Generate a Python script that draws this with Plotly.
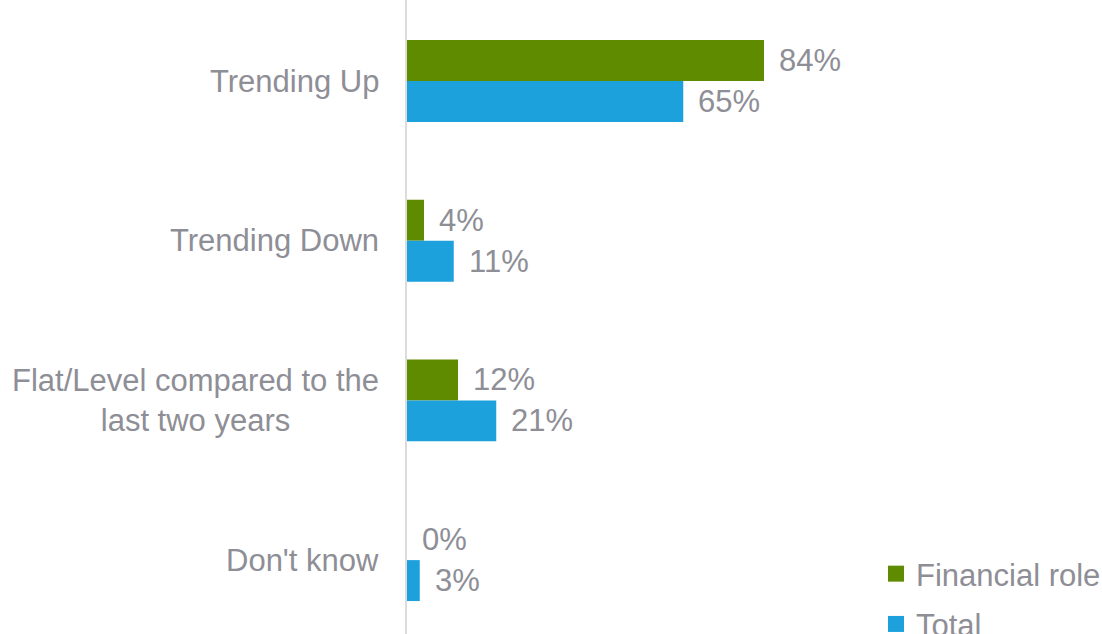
import plotly.graph_objects as go

# Survey responses by group
categories = ["Trending Up", "Trending Down",
              "Flat/Level compared to the<br>last two years", "Don't know"]
financial_role = [84, 4, 12, 0]
total = [65, 11, 21, 3]

GREEN = "#5f8b00"
BLUE = "#1da1dc"
TEXT = "#8e8e96"
FONT = "Liberation Sans, Arial, sans-serif"
FS = 31

W, H = 1102, 634
LEFT = 407
PX_PER_PCT = 4.25
PX_PER_CAT = 159.7
TOP_CENTER = 81

cat_idx = list(range(len(categories)))

fig = go.Figure()
fig.add_trace(go.Bar(y=cat_idx, x=financial_role, orientation="h",
                     marker=dict(color=GREEN, line=dict(width=0)),
                     name="Financial role", showlegend=False))
fig.add_trace(go.Bar(y=cat_idx, x=total, orientation="h",
                     marker=dict(color=BLUE, line=dict(width=0)),
                     name="Total", showlegend=False))

# legend entries drawn with square markers
for name, col, grp in [("Financial role", GREEN, "a"), ("Total", BLUE, "b")]:
    fig.add_trace(go.Scatter(x=[None], y=[None], mode="markers",
                             marker=dict(symbol="square", size=16, color=col),
                             name=name, legendgroup=grp, showlegend=True))

# value labels at the end of each bar
bar_half = PX_PER_CAT * (1 - 0.487) / 4
for i in cat_idx:
    for vals, dy in [(financial_role, bar_half), (total, -bar_half)]:
        fig.add_annotation(x=vals[i], y=i, xref="x", yref="y",
                           text=f"{vals[i]}%", showarrow=False,
                           xanchor="left", yanchor="middle",
                           xshift=13, yshift=dy,
                           font=dict(family=FONT, size=FS, color=TEXT))

# category labels, centered multi-line text
for i, c in enumerate(categories):
    fig.add_annotation(x=0, y=i, xref="paper", yref="y", text=c,
                       showarrow=False, xanchor="right", yanchor="middle",
                       align="center", xshift=-26,
                       font=dict(family=FONT, size=FS, color=TEXT))

y_top = -TOP_CENTER / PX_PER_CAT
y_bot = y_top + H / PX_PER_CAT

fig.update_layout(
    width=W, height=H,
    margin=dict(l=LEFT, r=0, t=0, b=0, autoexpand=False),
    paper_bgcolor="white", plot_bgcolor="white",
    barmode="group", bargap=0.487, bargroupgap=0,
    font=dict(family=FONT, size=FS, color=TEXT),
    xaxis=dict(range=[0, (W - LEFT) / PX_PER_PCT], visible=False,
               showgrid=False, zeroline=False),
    yaxis=dict(range=[y_bot, y_top], showgrid=False, zeroline=False,
               showticklabels=False, ticks="",
               showline=True, linecolor="#dcdcdc", linewidth=2),
    legend=dict(x=(876 - LEFT) / (W - LEFT), y=1 - 547 / H,
                xanchor="left", yanchor="top",
                bgcolor="rgba(0,0,0,0)", tracegroupgap=7,
                traceorder="grouped",
                font=dict(family=FONT, size=FS, color=TEXT)),
)

fig.write_html("out.html")
